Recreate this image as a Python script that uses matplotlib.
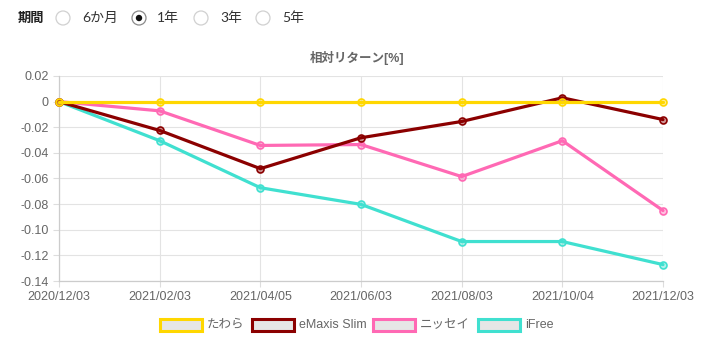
import matplotlib
matplotlib.use("Agg")
import matplotlib.pyplot as plt
from matplotlib.patches import Circle, Rectangle

plt.rcParams['font.family'] = ['Liberation Sans', 'Noto Sans CJK JP', 'DejaVu Sans']

dates = ["2020/12/03", "2021/02/03", "2021/04/05", "2021/06/03", "2021/08/03", "2021/10/04", "2021/12/03"]
tawara = [0, 0, 0, 0, 0, 0, 0]
emaxis = [0, -0.0225, -0.0523, -0.0282, -0.0155, 0.003, -0.014]
nissay = [0, -0.0072, -0.0342, -0.0335, -0.0585, -0.0305, -0.085]
ifree = [0, -0.0305, -0.0672, -0.0802, -0.1092, -0.1092, -0.1272]
series_names = ["たわら", "eMaxis Slim", "ニッセイ", "iFree"]
colors = ["#FFD700", "#8B0000", "#FF69B4", "#40E0D0"]
yticks = [0.02, 0, -0.02, -0.04, -0.06, -0.08, -0.10, -0.12, -0.14]
ytick_labels = ["0.02", "0", "-0.02", "-0.04", "-0.06", "-0.08", "-0.10", "-0.12", "-0.14"]
period_options = ["6か月", "1年", "3年", "5年"]

W, H = 715, 354
fig = plt.figure(figsize=(W / 100, H / 100), dpi=100)
ax = fig.add_axes([59 / W, 1 - 281 / H, (663 - 59) / W, (281 - 76) / H])

x = list(range(len(dates)))
data = [tawara, emaxis, nissay, ifree]
for i, (vals, c) in enumerate(zip(data, colors)):
    ax.plot(x, vals, color=c, lw=2.3, zorder=10 - i, solid_capstyle='round',
            marker='o', ms=5, mfc=c + "66", mec=c, mew=1.2, clip_on=False)

ax.set_xlim(0, len(dates) - 1)
ax.set_ylim(-0.14, 0.02)
ax.set_yticks(yticks)
ax.set_yticklabels(ytick_labels)
ax.set_xticks(x)
ax.set_xticklabels(dates)
ax.tick_params(axis='both', colors='#666666', labelsize=9, length=4, width=0.8)
ax.tick_params(axis='x', pad=3, color='#dddddd')
ax.tick_params(axis='y', color='#dddddd')
ax.grid(True, color='#e3e3e3', lw=0.8)
ax.set_axisbelow(True)
for s in ['top', 'right']:
    ax.spines[s].set_visible(False)
for s in ['left', 'bottom']:
    ax.spines[s].set_color('#cccccc')
    ax.spines[s].set_linewidth(0.9)

# title
fig.text(357 / W, 1 - 58 / H, "相対リターン[%]", ha='center', va='center',
         fontsize=9, fontweight='bold', color='#666666')

# period radio
tr = fig.dpi_scale_trans
fig.text(18 / W, 1 - 18 / H, "期間", ha='left', va='center', fontsize=9.5,
         fontweight='bold', color='#222222', family=['Noto Sans CJK JP'])
circ_x = [63, 139, 201, 263]
text_x = [82, 157, 220, 282]
for i, (cx, tx, lab) in enumerate(zip(circ_x, text_x, period_options)):
    c = Circle((cx / 100, (H - 18) / 100), 0.07, transform=tr, facecolor='white',
               edgecolor='#8a8a8a' if lab == "1年" else '#d0d0d0', lw=0.9)
    fig.add_artist(c)
    if lab == "1年":
        fig.add_artist(Circle((cx / 100, (H - 18) / 100), 0.032, transform=tr,
                              facecolor='#111111', edgecolor='none'))
    fig.text(tx / W, 1 - 18 / H, lab, ha='left', va='center', fontsize=10,
             color='#333333', family=['Lato', 'Noto Sans CJK JP'])

# legend
box_x = [160, 252, 373, 478]
for bx, name, c in zip(box_x, series_names, colors):
    r = Rectangle((bx / 100, (H - 331) / 100), 0.42, 0.12, transform=tr,
                  facecolor='#e6e6e6', edgecolor=c, lw=2.2)
    fig.add_artist(r)
    fig.text((bx + 47) / W, 1 - 325 / H, name, ha='left', va='center',
             fontsize=9, color='#666666')

fig.savefig("out.png", dpi=100)
